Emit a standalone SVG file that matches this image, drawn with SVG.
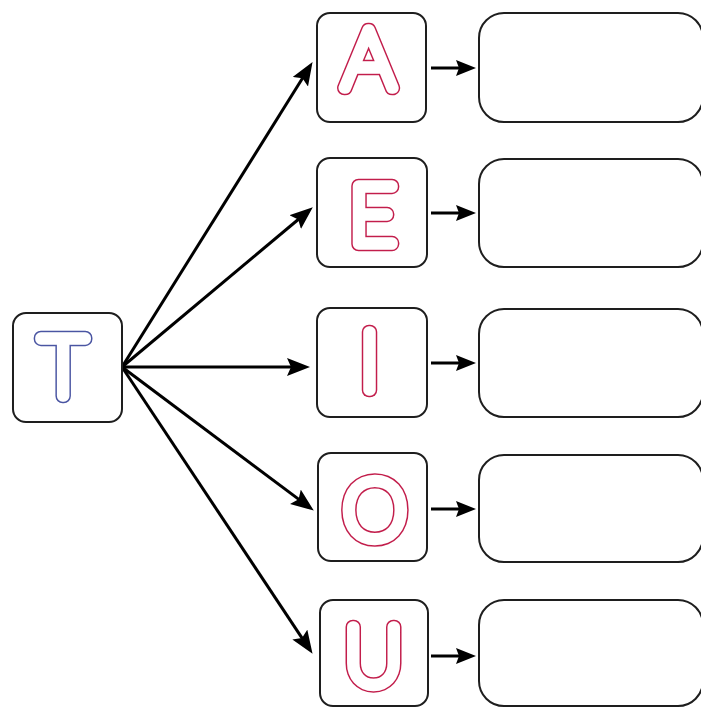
<svg xmlns="http://www.w3.org/2000/svg" width="701" height="707" viewBox="0 0 701 707">
  <style>
    .box { fill: #ffffff; stroke: #1e1e1e; stroke-width: 2; }
    .wide { fill: #ffffff; stroke: #1e1e1e; stroke-width: 2; }
    .edge { stroke: #000000; stroke-width: 3; fill: none; }
    .lt { font-family: Lato, Roboto, sans-serif; font-weight: 100; font-size: 82px; text-anchor: middle; stroke-linejoin: round; stroke-linecap: round; }
    .o-red { fill: none; stroke: #c21d4b; stroke-width: 14.5; }
    .o-blue { fill: none; stroke: #4a55a2; stroke-width: 14.5; }
    .in { fill: #ffffff; stroke: #ffffff; stroke-width: 11.5; }
  </style>
  <defs>
    <marker id="big" markerUnits="userSpaceOnUse" markerWidth="24" markerHeight="20" refX="11" refY="9" orient="auto">
      <path d="M0,0 L23,9 L0,18 L4,9 z" fill="#000"/>
    </marker>
    <marker id="small" markerUnits="userSpaceOnUse" markerWidth="22" markerHeight="18" refX="9" refY="8" orient="auto">
      <path d="M0,0 L20,8 L0,16 L3,8 z" fill="#000"/>
    </marker>
  </defs>
  <rect width="701" height="707" fill="#ffffff"/>

  <g id="connectors">
    <line class="edge" x1="122" y1="367" x2="306.2" y2="72.3" marker-end="url(#big)"/>
    <line class="edge" x1="122" y1="367" x2="303.6" y2="215" marker-end="url(#big)"/>
    <line class="edge" x1="122" y1="367" x2="298" y2="367" marker-end="url(#big)"/>
    <line class="edge" x1="122" y1="367" x2="304.2" y2="503.4" marker-end="url(#big)"/>
    <line class="edge" x1="122" y1="367" x2="305.9" y2="643.8" marker-end="url(#big)"/>
    <line class="edge" x1="431" y1="68" x2="465" y2="68" marker-end="url(#small)"/>
    <line class="edge" x1="431" y1="213" x2="465" y2="213" marker-end="url(#small)"/>
    <line class="edge" x1="431" y1="363" x2="465" y2="363" marker-end="url(#small)"/>
    <line class="edge" x1="431" y1="509" x2="465" y2="509" marker-end="url(#small)"/>
    <line class="edge" x1="431" y1="656" x2="465" y2="656" marker-end="url(#small)"/>
  </g>

  <g id="node-T">
    <rect class="box" x="13" y="313" width="109" height="109" rx="13"/>
    <text class="lt o-blue" x="63" y="395.5">T</text>
    <text class="lt in" x="63" y="395.5">T</text>
  </g>

  <g id="node-A">
    <rect class="box" x="317" y="13" width="109" height="109" rx="13"/>
    <text class="lt o-red" x="368.5" y="88">A</text>
    <text class="lt in" x="368.5" y="88">A</text>
  </g>
  <g id="node-E">
    <rect class="box" x="317" y="158" width="110" height="109" rx="13"/>
    <text class="lt o-red" x="373" y="243.5">E</text>
    <text class="lt in" x="373" y="243.5">E</text>
  </g>
  <g id="node-I">
    <rect class="box" x="317" y="308" width="110" height="109" rx="13"/>
    <text class="lt o-red" x="369.5" y="390">I</text>
    <text class="lt in" x="369.5" y="390">I</text>
  </g>
  <g id="node-O">
    <rect class="box" x="318" y="453" width="109" height="108" rx="13"/>
    <text class="lt o-red" x="375" y="539">O</text>
    <text class="lt in" x="375" y="539">O</text>
  </g>
  <g id="node-U">
    <rect class="box" x="320" y="600" width="108" height="106" rx="13"/>
    <text class="lt o-red" x="373.5" y="684.5">U</text>
    <text class="lt in" x="373.5" y="684.5">U</text>
  </g>

  <g id="out-A"><rect class="wide" x="479" y="13" width="224" height="109" rx="25"/></g>
  <g id="out-E"><rect class="wide" x="479" y="159" width="224" height="108" rx="25"/></g>
  <g id="out-I"><rect class="wide" x="479" y="309" width="224" height="108" rx="25"/></g>
  <g id="out-O"><rect class="wide" x="479" y="455" width="224" height="107" rx="25"/></g>
  <g id="out-U"><rect class="wide" x="479" y="600" width="224" height="106" rx="25"/></g>
</svg>
